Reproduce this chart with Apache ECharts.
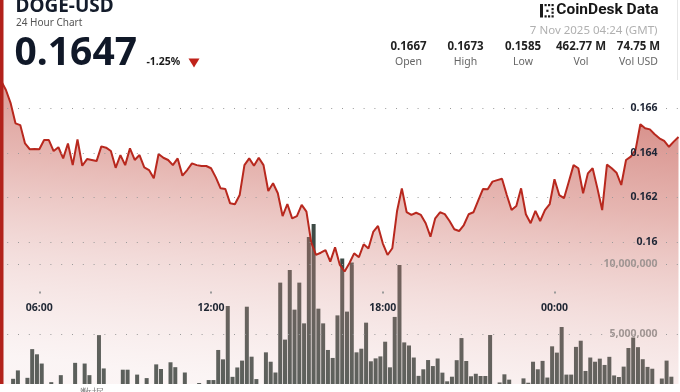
<!DOCTYPE html>
<html><head><meta charset="utf-8">
<script src="https://cdn.jsdelivr.net/npm/echarts@6/dist/echarts.min.js"></script>
<style>html,body{margin:0;padding:0;background:#fff;overflow:hidden}#c{width:680px;height:392px}</style>
</head><body><div id="c"></div>
<script>
// ---------- data ----------
const symbol = 'DOGE-USD';
const subtitle = '24 Hour Chart';
const lastPrice = '0.1647';
const changePct = '-1.25%';
const brand = 'CoinDesk Data';
const stamp = '7 Nov 2025 04:24 (GMT)';
const statValues = ['0.1667', '0.1673', '0.1585', '462.77 M', '74.75 M'];
const statLabels = ['Open', 'High', 'Low', 'Vol', 'Vol USD'];
const timeTicks = ['06:00', '12:00', '18:00', '00:00'];
const priceTicks = [0.16, 0.162, 0.164, 0.166];
const volumeTicksM = [5, 10];
const footText = '数据';

// 10-minute points, 04:30 -> 04:20 next day
const times = [];
for (let k = 0; k < 144; k++) {
  const m = (270 + 10 * k) % 1440;
  times.push(String(Math.floor(m / 60)).padStart(2, '0') + ':' + String(m % 60).padStart(2, '0'));
}

const price = [
0.1673,0.1672,0.1668,0.1662,0.16531,0.16523,0.16441,0.16415,0.16416,0.16415,
0.16456,0.16456,0.16407,0.16424,0.16374,0.16441,0.16344,0.16459,0.16341,0.16371,
0.16367,0.16362,0.16428,0.16422,0.16407,0.16332,0.16389,0.16344,0.16419,0.16367,
0.16389,0.16334,0.16322,0.16285,0.16394,0.16377,0.16367,0.16344,0.16374,0.16297,
0.16322,0.16352,0.16344,0.1634,0.1634,0.1633,0.16289,0.1624,0.16237,0.16173,
0.16169,0.1621,0.16344,0.16374,0.16341,0.16377,0.16344,0.16228,0.16263,0.16218,
0.16116,0.1617,0.16106,0.16116,0.16166,0.16136,0.15998,0.15942,0.15952,0.15964,
0.15912,0.15976,0.15897,0.15868,0.15905,0.15949,0.15932,0.1599,0.15971,0.16045,
0.16072,0.15994,0.15942,0.15972,0.16139,0.1624,0.16134,0.16121,0.16131,0.16121,
0.16084,0.16024,0.16106,0.16133,0.16125,0.16094,0.16057,0.16049,0.16076,0.16124,
0.16133,0.16185,0.16237,0.16236,0.1627,0.16277,0.16283,0.1621,0.16143,0.16161,
0.1624,0.16124,0.16084,0.16139,0.16094,0.16143,0.1617,0.16281,0.1621,0.16196,
0.1627,0.16344,0.1633,0.16218,0.16307,0.1633,0.1624,0.16143,0.16346,0.1633,
0.1631,0.16255,0.16367,0.16382,0.16412,0.16527,0.16509,0.16504,0.16482,0.16464,
0.16452,0.16426,0.16449,0.1647
];

// volume in millions
const volumeM = [
1.2,1.0,1.3,1.8,2.4,1.1,1.87,3.92,3.55,2.89,
1.2,1.56,1.3,2.06,1.0,1.2,2.94,1.3,2.89,2.06,
1.1,4.92,2.54,1.2,1.0,1.3,2.45,2.45,1.2,2.1,
1.3,1.85,1.1,2.83,2.5,1.2,2.98,2.63,1.0,2.25,
1.3,1.2,1.5,1.1,1.71,1.71,3.86,3.19,7.0,1.94,
2.61,3.1,6.95,3.38,1.78,1.3,3.69,3.02,2.25,8.67,
4.6,9.57,6.74,8.67,5.76,11.93,12.85,6.81,5.76,3.86,
3.29,6.33,10.4,6.6,10.1,3.69,3.95,5.81,3.05,3.26,
3.4,4.45,2.62,6.22,9.93,4.4,4.18,3.32,2.01,2.48,
3.14,2.71,3.25,2.24,1.62,1.95,3.13,4.71,3.07,1.98,
2.16,2.0,2.0,4.93,1.2,1.54,2.12,1.74,1.3,1.1,
1.83,1.52,3.02,2.48,3.08,1.89,4.12,3.67,5.5,2.1,
2.1,4.08,4.52,2.36,3.32,3.02,3.24,2.79,3.37,2.04,
1.93,2.67,4.0,4.75,4.06,3.2,2.65,2.52,1.2,1.82,
3.1,1.95,1.3,1.0
];

// ---------- chart ----------
const FONT = '"Noto Sans", "Open Sans", sans-serif';
const chart = echarts.init(document.getElementById('c'), null, {renderer: 'canvas'});
const L = -3.6, R = 1.5;
const statX = [408.5, 465.5, 523, 581, 638.5];

const graphics = [
  {type: 'rect', z: 100, shape: {x: 0, y: 384, width: 680, height: 8}, style: {fill: '#ffffff'}},
  {type: 'text', z: 101, x: 80, y: 387.5, style: {text: footText, font: '12px ' + FONT, fill: '#8a8a8a', textAlign: 'left', textVerticalAlign: 'top'}},
  {type: 'rect', z: 100, shape: {x: 0, y: 0, width: 3.5, height: 384}, style: {fill: '#b2221b'}},
  {type: 'rect', z: 100, shape: {x: 677, y: 0, width: 1, height: 80}, style: {fill: '#e6e6e6'}},
  {type: 'text', z: 100, x: 15.5, y: 6.5, style: {text: symbol, font: 'bold 19px ' + FONT, fill: '#141c2b', textAlign: 'left', textVerticalAlign: 'middle'}},
  {type: 'text', z: 100, x: 16, y: 23.5, style: {text: subtitle, font: '10px ' + FONT, fill: '#555', textAlign: 'left', textVerticalAlign: 'middle'}},
  {type: 'text', z: 100, x: 14.5, y: 53.5, style: {text: lastPrice, font: 'bold 39px ' + FONT, fill: '#101828', textAlign: 'left', textVerticalAlign: 'middle'}},
  {type: 'text', z: 100, x: 146.5, y: 62.5, style: {text: changePct, font: 'bold 10.5px ' + FONT, fill: '#1a1a1a', textAlign: 'left', textVerticalAlign: 'middle'}},
  {type: 'polygon', z: 100, shape: {points: [[188.5, 58.5], [199.5, 58.5], [194, 67.5]]}, style: {fill: '#c0221a'}},
  {type: 'text', z: 100, x: 658.5, y: 10.5, style: {text: brand, font: 'bold 15.5px Roboto, ' + FONT, fill: '#161616', textAlign: 'right', textVerticalAlign: 'middle'}},
  {type: 'text', z: 100, x: 657.5, y: 31, style: {text: stamp, font: '11.5px ' + FONT, fill: '#b0b0b0', textAlign: 'right', textVerticalAlign: 'middle'}},
  // logo icon
  {type: 'rect', z: 100, shape: {x: 540, y: 4, width: 3, height: 13.5}, style: {fill: '#1a1a1a'}},
  {type: 'rect', z: 100, shape: {x: 544.5, y: 4, width: 2.2, height: 2.2}, style: {fill: '#1a1a1a'}},
  {type: 'rect', z: 100, shape: {x: 548, y: 4, width: 2.2, height: 2.2}, style: {fill: '#1a1a1a'}},
  {type: 'rect', z: 100, shape: {x: 551.5, y: 4, width: 2.2, height: 2.2}, style: {fill: '#1a1a1a'}},
  {type: 'rect', z: 100, shape: {x: 544.5, y: 15.3, width: 2.2, height: 2.2}, style: {fill: '#1a1a1a'}},
  {type: 'rect', z: 100, shape: {x: 548, y: 15.3, width: 2.2, height: 2.2}, style: {fill: '#1a1a1a'}},
  {type: 'rect', z: 100, shape: {x: 551.5, y: 15.3, width: 2.2, height: 2.2}, style: {fill: '#1a1a1a'}},
  {type: 'rect', z: 100, shape: {x: 551.5, y: 8, width: 2.2, height: 2.2}, style: {fill: '#1a1a1a'}},
  {type: 'rect', z: 100, shape: {x: 551.5, y: 11.6, width: 2.2, height: 2.2}, style: {fill: '#1a1a1a'}},
  {type: 'rect', z: 100, shape: {x: 546.3, y: 9.7, width: 2.2, height: 2.2}, style: {fill: '#1a1a1a'}}
];
statValues.forEach((v, k) => {
  graphics.push({type: 'text', z: 100, x: statX[k], y: 46.5, style: {text: v, font: 'bold 11.5px ' + FONT, fill: '#222', textAlign: 'center', textVerticalAlign: 'middle'}});
  graphics.push({type: 'text', z: 100, x: statX[k], y: 62, style: {text: statLabels[k], font: '10.5px ' + FONT, fill: '#666', textAlign: 'center', textVerticalAlign: 'middle'}});
});

const dotted = {type: [1, 9.8], color: '#9a9a9a', width: 1};

const option = {
  animation: false,
  backgroundColor: '#ffffff',
  grid: [
    {left: L, right: R, top: 63.2, bottom: -28.8, outerBoundsMode: 'none', containLabel: false},
    {left: -1.2, right: -0.9, top: 124, bottom: -12, outerBoundsMode: 'none', containLabel: false},
    {left: L, right: R, top: 108.3, bottom: 150, outerBoundsMode: 'none', containLabel: false},
    {left: L, right: R, top: 264, bottom: 58, outerBoundsMode: 'none', containLabel: false}
  ],
  xAxis: [
    {gridIndex: 0, type: 'category', data: times, boundaryGap: false, show: false},
    {gridIndex: 1, type: 'category', data: times, boundaryGap: false, show: false},
    {gridIndex: 2, type: 'category', data: times, boundaryGap: false, offset: 49.5, z: 5,
      axisLine: {show: false},
      axisTick: {show: true, interval: (i, v) => timeTicks.includes(v), length: 2, lineStyle: {color: '#9a9a9a', width: 2}},
      axisLabel: {interval: (i, v) => timeTicks.includes(v), margin: 11, fontSize: 10.5, fontWeight: 'bold', color: '#1f2633', fontFamily: FONT, hideOverlap: false},
      splitLine: {show: false}},
    {gridIndex: 3, type: 'category', data: times, boundaryGap: false, show: false}
  ],
  yAxis: [
    {gridIndex: 0, type: 'value', min: 0.152, max: 0.168, show: false},
    {gridIndex: 1, type: 'value', min: 0, max: 20, show: false},
    {gridIndex: 2, type: 'value', min: priceTicks[0], max: priceTicks[priceTicks.length - 1], interval: 0.002, position: 'right', z: 5,
      axisLine: {show: false}, axisTick: {show: false},
      axisLabel: {inside: true, margin: 21, fontSize: 10.5, fontWeight: 'bold', color: '#1e2535', fontFamily: FONT, showMinLabel: true, showMaxLabel: true},
      splitLine: {show: true, showMinLine: true, showMaxLine: true, lineStyle: dotted}},
    {gridIndex: 3, type: 'value', min: volumeTicksM[0], max: volumeTicksM[1], interval: 5, position: 'right', z: 5,
      axisLine: {show: false}, axisTick: {show: false},
      axisLabel: {inside: true, margin: 21, fontSize: 10.5, fontWeight: 'bold', color: '#a09593', fontFamily: FONT, showMinLabel: true, showMaxLabel: true,
        formatter: v => (v * 1e6).toLocaleString('en-US')},
      splitLine: {show: true, showMinLine: true, showMaxLine: true, lineStyle: dotted}}
  ],
  series: [
    {type: 'bar', xAxisIndex: 1, yAxisIndex: 1, data: volumeM, barWidth: 4, z: 1, silent: true,
      itemStyle: {color: '#3d4a45'}},
    {type: 'line', xAxisIndex: 0, yAxisIndex: 0, data: price, symbol: 'none', z: 2, silent: true,
      lineStyle: {color: '#b8281e', width: 2},
      areaStyle: {color: new echarts.graphic.LinearGradient(1, 0, 0.95, 1, [
        {offset: 0, color: 'rgba(175,35,25,0.85)'},
        {offset: 0.4, color: 'rgba(200,95,85,0.65)'},
        {offset: 0.7, color: 'rgba(218,150,145,0.45)'},
        {offset: 1, color: 'rgba(232,195,195,0.25)'}
      ])}}
  ],
  graphic: graphics
};
chart.setOption(option);
</script>
</body></html>
